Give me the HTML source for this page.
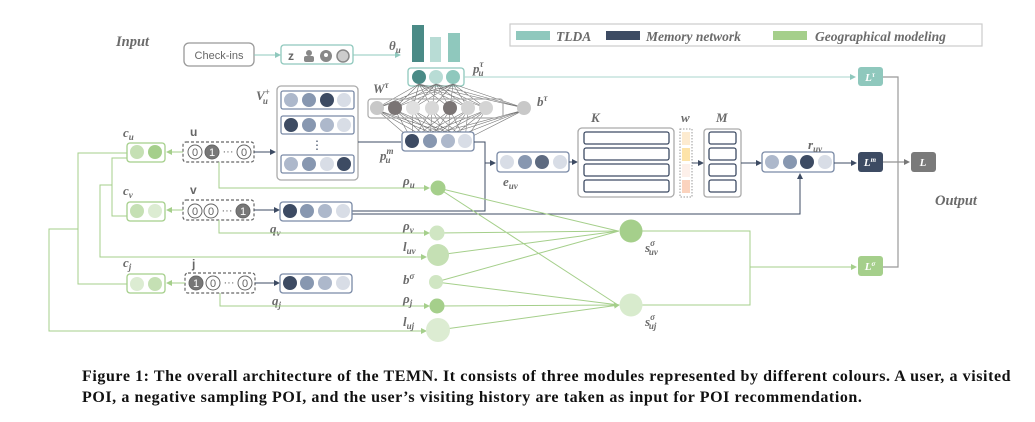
<!DOCTYPE html>
<html><head><meta charset="utf-8"><style>
body{margin:0;background:#fff;width:1035px;height:422px;overflow:hidden}
.cap{position:absolute;left:82px;top:366px;font:bold 16px "Liberation Serif",serif;letter-spacing:0.58px;color:#111;line-height:21px;width:960px;white-space:nowrap}
</style></head><body>
<svg width="1035" height="422" style="position:absolute;left:0;top:0" font-family="Liberation Serif,serif">
<defs>
<marker id="ag" markerWidth="6" markerHeight="6" refX="5" refY="3" orient="auto"><path d="M0,0L6,3L0,6z" fill="#a5cf8b"/></marker>
<marker id="at" markerWidth="6" markerHeight="6" refX="5" refY="3" orient="auto"><path d="M0,0L6,3L0,6z" fill="#8fc8bd"/></marker>
<marker id="an" markerWidth="6" markerHeight="6" refX="5" refY="3" orient="auto"><path d="M0,0L6,3L0,6z" fill="#3d4b63"/></marker>
<marker id="ak" markerWidth="6" markerHeight="6" refX="5" refY="3" orient="auto"><path d="M0,0L6,3L0,6z" fill="#777"/></marker>
</defs>
<g font-style="italic" font-weight="bold" fill="#6b6b6b">
<text x="116" y="46" font-size="14.5">Input</text>
<text x="935" y="205" font-size="14.5">Output</text>
</g>
<rect x="510" y="24" width="472" height="22" fill="#fff" stroke="#ccc" stroke-width="1.2"/>
<rect x="516" y="31" width="34" height="9" fill="#8fc8bd"/>
<rect x="606" y="31" width="34" height="9" fill="#3d4b63"/>
<rect x="773" y="31" width="34" height="9" fill="#a5cf8b"/>
<g font-style="italic" font-weight="bold" fill="#6b6b6b" font-size="13.5">
<text x="556" y="41">TLDA</text><text x="646" y="41">Memory network</text><text x="815" y="41">Geographical modeling</text></g>
<rect x="184" y="43" width="70" height="23" rx="5" fill="#fff" stroke="#999" stroke-width="1.3"/>
<text x="219" y="59" font-family="Liberation Sans,sans-serif" font-size="11" fill="#666" text-anchor="middle">Check-ins</text>
<line x1="254" y1="55" x2="280" y2="55" stroke="#8fc8bd" marker-end="url(#at)"/>
<rect x="281" y="45" width="72" height="19" rx="3" fill="#fff" stroke="#8fc8bd" stroke-width="1.3"/>
<text x="288" y="60" font-family="Liberation Sans,sans-serif" font-weight="bold" font-size="12" fill="#666">z</text>
<circle cx="309" cy="53" r="3" fill="#888"/><rect x="304" y="56" width="10" height="6" rx="2" fill="#888"/>
<circle cx="326" cy="56" r="6" fill="#888"/><circle cx="326" cy="55" r="2" fill="#fff"/>
<circle cx="343" cy="56" r="6" fill="#ccc" stroke="#888" stroke-width="1.5"/>
<line x1="353" y1="55" x2="400" y2="55" stroke="#8fc8bd" marker-end="url(#at)"/>
<text x="389" y="50" font-size="13" font-style="italic" font-weight="bold" fill="#6b6b6b">θ<tspan font-size="9" dy="3">u</tspan></text>
<rect x="412" y="25" width="12" height="37" fill="#4a8a86"/>
<rect x="430" y="37" width="11" height="25" fill="#b8dcd5"/>
<rect x="448" y="33" width="12" height="29" fill="#8fc8bd"/>
<rect x="408" y="68" width="56" height="18" rx="3" fill="#fff" stroke="#8fc8bd" stroke-width="1.3"/>
<circle cx="419" cy="77" r="7" fill="#4a8a86"/><circle cx="436" cy="77" r="7" fill="#b8dcd5"/><circle cx="453" cy="77" r="7" fill="#8fc8bd"/>
<text x="473" y="73" font-size="13" font-style="italic" font-weight="bold" fill="#6b6b6b">p<tspan font-size="9" dy="-6">τ</tspan><tspan font-size="9" dx="-5" dy="9">u</tspan></text>
<line x1="464" y1="77" x2="855" y2="77" stroke="#a8d5cc" marker-end="url(#at)"/>
<rect x="858" y="67" width="25" height="19" rx="3" fill="#8fc8bd"/>
<text x="870" y="81" fill="#fff" font-size="11" font-style="italic" font-weight="bold" text-anchor="middle">L<tspan font-size="7" dy="-4">τ</tspan></text>
<g stroke="#777" stroke-width="0.6">
<path d="M419,84L377,108M419,84L395,108M419,84L413,108M419,84L432,108M419,84L450,108M419,84L468,108M419,84L486,108M436,84L377,108M436,84L395,108M436,84L413,108M436,84L432,108M436,84L450,108M436,84L468,108M436,84L486,108M453,84L377,108M453,84L395,108M453,84L413,108M453,84L432,108M453,84L450,108M453,84L468,108M453,84L486,108M419,84L524,108M436,84L524,108M453,84L524,108"/>
<path d="M377,110L412,140M377,110L430,140M377,110L448,140M377,110L465,140M395,110L412,140M395,110L430,140M395,110L448,140M395,110L465,140M413,110L412,140M413,110L430,140M413,110L448,140M413,110L465,140M432,110L412,140M432,110L430,140M432,110L448,140M432,110L465,140M450,110L412,140M450,110L430,140M450,110L448,140M450,110L465,140M468,110L412,140M468,110L430,140M468,110L448,140M468,110L465,140M486,110L412,140M486,110L430,140M486,110L448,140M486,110L465,140M524,110L412,140M524,110L430,140M524,110L448,140M524,110L465,140"/>
</g>
<rect x="368" y="99" width="135" height="19" rx="3" fill="none" stroke="#aaa" stroke-width="1.2"/>
<g><circle cx="377" cy="108" r="7" fill="#c8c8c8"/><circle cx="395" cy="108" r="7" fill="#7a7474"/><circle cx="413" cy="108" r="7" fill="#e0e0e0"/><circle cx="432" cy="108" r="7" fill="#d8d8d8"/><circle cx="450" cy="108" r="7" fill="#7a7474"/><circle cx="468" cy="108" r="7" fill="#d4d4d4"/><circle cx="486" cy="108" r="7" fill="#d4d4d4"/><circle cx="524" cy="108" r="7" fill="#c8c8c8"/></g>
<text x="373" y="93" font-size="13" font-style="italic" font-weight="bold" fill="#6b6b6b">W<tspan font-size="9" dy="-5">τ</tspan></text>
<text x="537" y="106" font-size="13" font-style="italic" font-weight="bold" fill="#6b6b6b">b<tspan font-size="9" dy="-5">τ</tspan></text>
<rect x="277" y="86" width="81" height="94" rx="4" fill="#fff" stroke="#aaa" stroke-width="1.3"/>
<text x="256" y="100" font-size="13" font-style="italic" font-weight="bold" fill="#6b6b6b">V<tspan font-size="9" dy="-5">+</tspan><tspan font-size="9" dx="-7" dy="9">u</tspan></text>
<g stroke="#7a8aa6" stroke-width="1.3" fill="#fff">
<rect x="281" y="91" width="73" height="18" rx="2"/><rect x="281" y="116" width="73" height="18" rx="2"/><rect x="281" y="155" width="73" height="18" rx="2"/></g>
<g>
<circle cx="291" cy="100" r="7" fill="#adb8cb"/><circle cx="309" cy="100" r="7" fill="#8797b0"/><circle cx="327" cy="100" r="7" fill="#3d4b63"/><circle cx="344" cy="100" r="7" fill="#d8dde6"/>
<circle cx="291" cy="125" r="7" fill="#3d4b63"/><circle cx="309" cy="125" r="7" fill="#8797b0"/><circle cx="327" cy="125" r="7" fill="#adb8cb"/><circle cx="344" cy="125" r="7" fill="#d8dde6"/>
<circle cx="291" cy="164" r="7" fill="#adb8cb"/><circle cx="309" cy="164" r="7" fill="#8797b0"/><circle cx="327" cy="164" r="7" fill="#d8dde6"/><circle cx="344" cy="164" r="7" fill="#3d4b63"/></g>
<text x="317" y="149" font-size="12" fill="#3d4b63" text-anchor="middle">⋮</text>
<line x1="358" y1="142" x2="401" y2="142" stroke="#3d4b63"/>
<rect x="402" y="132" width="72" height="19" rx="3" fill="#fff" stroke="#7a8aa6" stroke-width="1.3"/>
<circle cx="412" cy="141" r="7" fill="#3d4b63"/><circle cx="430" cy="141" r="7" fill="#8797b0"/><circle cx="448" cy="141" r="7" fill="#adb8cb"/><circle cx="465" cy="141" r="7" fill="#d8dde6"/>
<text x="380" y="160" font-size="13" font-style="italic" font-weight="bold" fill="#6b6b6b">p<tspan font-size="9" dy="-6">m</tspan><tspan font-size="9" dx="-8" dy="9">u</tspan></text>
<path d="M474,142H485V163H495" fill="none" stroke="#3d4b63" marker-end="url(#an)"/>
<path d="M352,211H485V163" fill="none" stroke="#3d4b63"/>
<path d="M352,214H800V174" fill="none" stroke="#3d4b63" marker-end="url(#an)"/>
<rect x="497" y="152" width="72" height="20" rx="3" fill="#fff" stroke="#7a8aa6" stroke-width="1.3"/>
<circle cx="507" cy="162" r="7" fill="#d8dde6"/><circle cx="525" cy="162" r="7" fill="#8797b0"/><circle cx="542" cy="162" r="7" fill="#5d6a80"/><circle cx="560" cy="162" r="7" fill="#d8dde6"/>
<text x="503" y="186" font-size="13" font-style="italic" font-weight="bold" fill="#6b6b6b">e<tspan font-size="9" dy="3">uv</tspan></text>
<line x1="569" y1="162" x2="577" y2="162" stroke="#3d4b63" marker-end="url(#an)"/>
<rect x="578" y="128" width="96" height="69" rx="4" fill="#fff" stroke="#aaa" stroke-width="1.3"/>
<g fill="#fff" stroke="#3d4b63" stroke-width="1.3"><rect x="584" y="132" width="85" height="12" rx="2"/><rect x="584" y="148" width="85" height="12" rx="2"/><rect x="584" y="164" width="85" height="12" rx="2"/><rect x="584" y="180" width="85" height="12" rx="2"/></g>
<text x="591" y="122" font-size="13" font-style="italic" font-weight="bold" fill="#6b6b6b">K</text>
<rect x="680" y="129" width="12" height="68" fill="#fff" stroke="#999" stroke-dasharray="1.5,1.5"/>
<rect x="682" y="132" width="8" height="13" fill="#fdebd0"/><rect x="682" y="148" width="8" height="13" fill="#fde3a8"/><rect x="682" y="164" width="8" height="13" fill="#fdf0ea"/><rect x="682" y="180" width="8" height="13" fill="#fbd3be"/>
<text x="681" y="122" font-size="13" font-style="italic" font-weight="bold" fill="#6b6b6b">w</text>
<line x1="692" y1="163" x2="703" y2="163" stroke="#3d4b63" marker-end="url(#an)"/>
<rect x="704" y="129" width="37" height="68" rx="3" fill="#fff" stroke="#aaa" stroke-width="1.3"/>
<g fill="#fff" stroke="#3d4b63" stroke-width="1.3"><rect x="709" y="132" width="27" height="12" rx="2"/><rect x="709" y="148" width="27" height="12" rx="2"/><rect x="709" y="164" width="27" height="12" rx="2"/><rect x="709" y="180" width="27" height="12" rx="2"/></g>
<text x="716" y="122" font-size="13" font-style="italic" font-weight="bold" fill="#6b6b6b">M</text>
<line x1="741" y1="163" x2="761" y2="163" stroke="#3d4b63" marker-end="url(#an)"/>
<rect x="762" y="152" width="72" height="20" rx="3" fill="#fff" stroke="#7a8aa6" stroke-width="1.3"/>
<circle cx="772" cy="162" r="7" fill="#adb8cb"/><circle cx="790" cy="162" r="7" fill="#8797b0"/><circle cx="807" cy="162" r="7" fill="#3d4b63"/><circle cx="825" cy="162" r="7" fill="#d8dde6"/>
<text x="808" y="149" font-size="13" font-style="italic" font-weight="bold" fill="#6b6b6b">r<tspan font-size="9" dy="3">uv</tspan></text>
<line x1="834" y1="163" x2="856" y2="163" stroke="#3d4b63" marker-end="url(#an)"/>
<rect x="858" y="152" width="25" height="20" rx="3" fill="#3d4b63"/>
<text x="870" y="166" fill="#fff" font-size="11" font-style="italic" font-weight="bold" text-anchor="middle">L<tspan font-size="7" dy="-4">m</tspan></text>
<line x1="883" y1="162" x2="909" y2="162" stroke="#777" marker-end="url(#ak)"/>
<rect x="911" y="152" width="25" height="20" rx="3" fill="#7a7a7a"/>
<text x="923" y="166" fill="#fff" font-size="11" font-style="italic" font-weight="bold" text-anchor="middle">L</text>
<path d="M883,77H898V267H883" fill="none" stroke="#999" stroke-width="1.2"/>
<g font-family="Liberation Sans,sans-serif" font-weight="bold" font-size="12" fill="#666"><text x="190" y="136">u</text><text x="190" y="194">v</text><text x="192" y="268">j</text></g>
<g font-size="13" font-style="italic" font-weight="bold" fill="#6b6b6b">
<text x="123" y="137">c<tspan font-size="9" dy="3">u</tspan></text><text x="123" y="195">c<tspan font-size="9" dy="3">v</tspan></text><text x="123" y="267">c<tspan font-size="9" dy="3">j</tspan></text>
<text x="270" y="233">q<tspan font-size="9" dy="3">v</tspan></text><text x="272" y="305">q<tspan font-size="9" dy="3">j</tspan></text></g>
<g fill="none" stroke="#666" stroke-width="1.2" stroke-dasharray="3,2">
<rect x="183" y="142" width="71" height="20" rx="3"/><rect x="183" y="200" width="71" height="20" rx="3"/><rect x="185" y="273" width="70" height="20" rx="3"/></g>
<g stroke="#666" stroke-width="1" fill="#fff">
<circle cx="195" cy="152" r="7"/><circle cx="212" cy="152" r="7" fill="#777"/><circle cx="244" cy="152" r="7"/>
<circle cx="195" cy="211" r="7"/><circle cx="211" cy="211" r="7"/><circle cx="243" cy="211" r="7" fill="#777"/>
<circle cx="196" cy="283" r="7" fill="#777"/><circle cx="213" cy="283" r="7"/><circle cx="245" cy="283" r="7"/></g>
<g font-family="Liberation Sans,sans-serif" font-size="11" text-anchor="middle" fill="#666">
<text x="195" y="156">0</text><text x="212" y="156" fill="#fff">1</text><text x="228" y="155">···</text><text x="244" y="156">0</text>
<text x="195" y="215">0</text><text x="211" y="215">0</text><text x="227" y="214">···</text><text x="243" y="215" fill="#fff">1</text>
<text x="196" y="287" fill="#fff">1</text><text x="213" y="287">0</text><text x="229" y="286">···</text><text x="245" y="287">0</text></g>
<line x1="254" y1="152" x2="275" y2="152" stroke="#3d4b63" marker-end="url(#an)"/>
<line x1="254" y1="210" x2="279" y2="210" stroke="#3d4b63" marker-end="url(#an)"/>
<line x1="255" y1="283" x2="279" y2="283" stroke="#3d4b63" marker-end="url(#an)"/>
<rect x="280" y="202" width="72" height="19" rx="3" fill="#fff" stroke="#7a8aa6" stroke-width="1.3"/>
<circle cx="290" cy="211" r="7" fill="#3d4b63"/><circle cx="307" cy="211" r="7" fill="#8797b0"/><circle cx="325" cy="211" r="7" fill="#adb8cb"/><circle cx="343" cy="211" r="7" fill="#d8dde6"/>
<rect x="280" y="274" width="72" height="19" rx="3" fill="#fff" stroke="#7a8aa6" stroke-width="1.3"/>
<circle cx="290" cy="283" r="7" fill="#3d4b63"/><circle cx="307" cy="283" r="7" fill="#8797b0"/><circle cx="325" cy="283" r="7" fill="#adb8cb"/><circle cx="343" cy="283" r="7" fill="#d8dde6"/>
<g fill="#fff" stroke="#a5cf8b" stroke-width="1.3"><rect x="127" y="143" width="38" height="19" rx="3"/><rect x="127" y="202" width="38" height="19" rx="3"/><rect x="127" y="274" width="38" height="19" rx="3"/></g>
<circle cx="137" cy="152" r="7" fill="#c5e0b4"/><circle cx="155" cy="152" r="7" fill="#a5cf8b"/>
<circle cx="137" cy="211" r="7" fill="#c5e0b4"/><circle cx="155" cy="211" r="7" fill="#dcecd2"/>
<circle cx="137" cy="284" r="7" fill="#dcecd2"/><circle cx="155" cy="284" r="7" fill="#c5e0b4"/>
<g fill="none" stroke="#a5cf8b" stroke-width="1">
<line x1="183" y1="152" x2="167" y2="152" marker-end="url(#ag)"/>
<line x1="183" y1="210" x2="167" y2="210" marker-end="url(#ag)"/>
<line x1="185" y1="283" x2="167" y2="283" marker-end="url(#ag)"/>
<path d="M127,153H78V284H127"/><path d="M127,158H112V216H127"/>
<path d="M112,185H100V257H426" marker-end="url(#ag)"/>
<path d="M78,229H49V331H426" marker-end="url(#ag)"/>
<path d="M219,162V188H429" marker-end="url(#ag)"/>
<path d="M219,220V233H429" marker-end="url(#ag)"/>
<path d="M220,293V306H429" marker-end="url(#ag)"/>
<path d="M438,188L618,231M438,188L618,305M437,233L619,231M438,255L619,231M436,282L619,231M436,282L619,305M437,306L619,305M438,330L619,305" marker-end="url(#ag)"/>
<path d="M642,231H750V305H642M750,267H856" marker-end="url(#ag)"/>
</g>
<g>
<circle cx="438" cy="188" r="7.5" fill="#a5cf8b"/><circle cx="437" cy="233" r="7.5" fill="#d0e6c3"/><circle cx="438" cy="255" r="11" fill="#c5e0b4"/><circle cx="436" cy="282" r="7" fill="#d0e6c3"/><circle cx="437" cy="306" r="7.5" fill="#a5cf8b"/><circle cx="438" cy="330" r="12" fill="#dcecd2"/>
<circle cx="631" cy="231" r="11.5" fill="#a5cf8b"/><circle cx="631" cy="305" r="11.5" fill="#d8ebcd"/></g>
<g font-size="13" font-style="italic" font-weight="bold" fill="#6b6b6b">
<text x="403" y="185">ρ<tspan font-size="9" dy="3">u</tspan></text>
<text x="403" y="230">ρ<tspan font-size="9" dy="3">v</tspan></text>
<text x="403" y="251">l<tspan font-size="9" dy="3">uv</tspan></text>
<text x="403" y="284">b<tspan font-size="9" dy="-5">σ</tspan></text>
<text x="403" y="303">ρ<tspan font-size="9" dy="3">j</tspan></text>
<text x="403" y="326">l<tspan font-size="9" dy="3">uj</tspan></text>
<text x="645" y="252">s<tspan font-size="9" dy="-6">σ</tspan><tspan font-size="9" dx="-6" dy="9">uv</tspan></text>
<text x="645" y="326">s<tspan font-size="9" dy="-6">σ</tspan><tspan font-size="9" dx="-6" dy="9">uj</tspan></text></g>
<rect x="858" y="256" width="25" height="20" rx="3" fill="#a5cf8b"/>
<text x="870" y="270" fill="#fff" font-size="11" font-style="italic" font-weight="bold" text-anchor="middle">L<tspan font-size="7" dy="-4">σ</tspan></text>
</svg>
<div class="cap">Figure 1: The overall architecture of the TEMN. It consists of three modules represented by different colours. A user, a visited<br>POI, a negative sampling POI, and the user’s visiting history are taken as input for POI recommendation.</div>
</body></html>
